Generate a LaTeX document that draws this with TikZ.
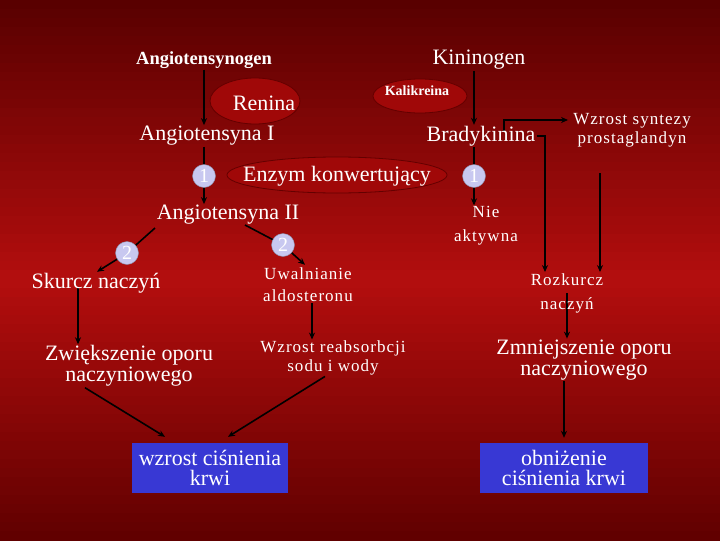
\documentclass[tikz,border=0pt]{standalone}
\usepackage{fontspec}
\setmainfont{Liberation Serif}
\usetikzlibrary{shapes.geometric,calc,arrows.meta}
\pgfdeclarelayer{back}\pgfdeclarelayer{lines}
\pgfsetlayers{back,lines,main}
\definecolor{bgtop}{RGB}{88,0,0}
\definecolor{bgmid}{RGB}{180,14,14}
\definecolor{bgbot}{RGB}{96,0,0}
\definecolor{ellfill}{RGB}{160,8,8}
\definecolor{elldraw}{RGB}{100,0,0}
\definecolor{circfill}{RGB}{200,200,240}
\definecolor{boxfill}{RGB}{56,56,212}
\begin{document}
\begin{tikzpicture}[x=1pt,y=-1pt,
 txt/.style={text=white, inner sep=1pt, align=center},
 big/.style={txt, font=\fontsize{22}{21}\selectfont},
 small/.style={txt, font=\fontsize{17}{#1}\selectfont\addfontfeature{LetterSpace=6}},
 ell/.style={ellipse, fill=ellfill, draw=elldraw, line width=0.8pt, inner sep=0pt},
 numc/.style={circle, fill=circfill, draw=circfill!70!black, line width=0.4pt, text=white, minimum size=23pt, inner sep=0pt, font=\fontsize{20}{20}\selectfont},
 arr/.style={draw=black, line width=1.6pt, -{Stealth[length=7pt,width=6pt]}},
 rbox/.style={fill=boxfill, text=white, minimum height=50pt, align=center, font=\fontsize{22}{20}\selectfont, inner sep=0pt}
]
\begin{pgfonlayer}{back}
\foreach \i in {0,...,59}{
  \pgfmathsetmacro\yy{\i*9+4.5}
  \pgfmathsetmacro\pa{\yy/2.8}
  \pgfmathsetmacro\pb{(540-\yy)/2.6}
  \pgfmathtruncatemacro\p{\yy<280 ? \pa : \pb}
  \ifnum\i<31
    \fill[bgmid!\p!bgtop] (0,\i*9) rectangle (720,\i*9+9.6);
  \else
    \fill[bgmid!\p!bgbot] (0,\i*9) rectangle (720,\i*9+9.6);
  \fi
}
\end{pgfonlayer}
\useasboundingbox (0,0) rectangle (720,540);

\node[ell, minimum width=90pt, minimum height=46pt] (renE) at (255,101) {};
\node[big] (ren) at (264,103) {Renina};
\node[ell, minimum width=94pt, minimum height=34pt] (kalE) at (420,96) {};
\node[txt, font=\bfseries\fontsize{14}{14}\selectfont] (kal) at (417,91) {Kalikreina};
\node[ell, minimum width=220pt, minimum height=36pt] (enzE) at (337,175) {};
\node[big] (enz) at (337,176) {Enzym konwertujący};

\node[txt, font=\bfseries\fontsize{18.5}{20}\selectfont] (agen) at (204,60) {Angiotensynogen};
\node[big] (kin) at (479,60) {Kininogen};
\node[big] (ang1) at (207,136) {Angiotensyna I};
\node[big] (brad) at (481,136) {Bradykinina};
\node[small=19] (wzs) at (632,130) {Wzrost syntezy\\prostaglandyn};
\node[big] (ang2) at (228,215) {Angiotensyna II};
\node[small=24] (nie) at (486,226) {Nie\\aktywna};
\node[big] (sk) at (96,283) {Skurcz naczyń};
\node[small=22] (uwa) at (308,285) {Uwalnianie\\aldosteronu};
\node[small=24] (roz) at (567,293) {Rozkurcz\\naczyń};
\node[big] (zw) at (129,366) {Zwiększenie oporu\\naczyniowego};
\node[small=19] (wra) at (333,358) {Wzrost reabsorbcji\\sodu i wody};
\node[big] (zmn) at (584,360) {Zmniejszenie oporu\\naczyniowego};
\node[rbox, minimum width=156pt] (wbox) at (210,468) {wzrost ciśnienia\\krwi};
\node[rbox, minimum width=168pt] (obox) at (564,468) {obniżenie\\ciśnienia krwi};

\node[numc] (c1l) at (204,176) {1};
\node[numc] (c1r) at (474,176) {1};
\node[numc] (c2r) at (283,245) {2};
\node[numc] (c2l) at (127,253) {2};

\begin{pgfonlayer}{lines}
\draw[arr] (agen.south -| c1l) -- (ang1.north -| c1l);
\draw[arr] (ang1.south -| c1l) -- (ang2.north -| c1l);
\draw[arr] (kin.south -| c1r) -- (brad.north -| c1r);
\draw[arr] (brad.south -| c1r) -- (nie.north -| c1r);
\draw[arr] ($(brad.center)+(23,-5)$) |- ($(wzs.west)+(-4,-10)$);
\draw[arr] (brad.east) -| ($(roz.north)+(-22,0)$);
\draw[arr] ($(wzs.south)+(-32,25)$) -- ($(roz.north)+(33,0)$);
\draw[arr] (roz.center) -- (roz.center |- zmn.north);
\draw[arr, shorten >=5pt] (obox.north |- zmn.south) -- (obox.north);
\draw[arr] ($(ang2.center)+(17,10)$) -- (c2r.center) -- ($(uwa.north)+(-3,-2)$);
\draw[arr] ($(ang2.center)+(-73,13)$) -- (c2l.center) -- ($(sk.north)+(1,0)$);
\draw[arr] ($(sk.center)+(-18,5)$) -- ($(zw.north)+(-51,0)$);
\draw[arr] ($(uwa.south)+(4,0)$) -- ($(wra.north)+(-21,0)$);
\draw[arr] ($(zw.south)+(-44,0)$) -- ($(wbox.north)+(-45,-6)$);
\draw[arr] ($(wra.south)+(-8,0)$) -- ($(wbox.north)+(18,-6)$);
\end{pgfonlayer}
\end{tikzpicture}
\end{document}
